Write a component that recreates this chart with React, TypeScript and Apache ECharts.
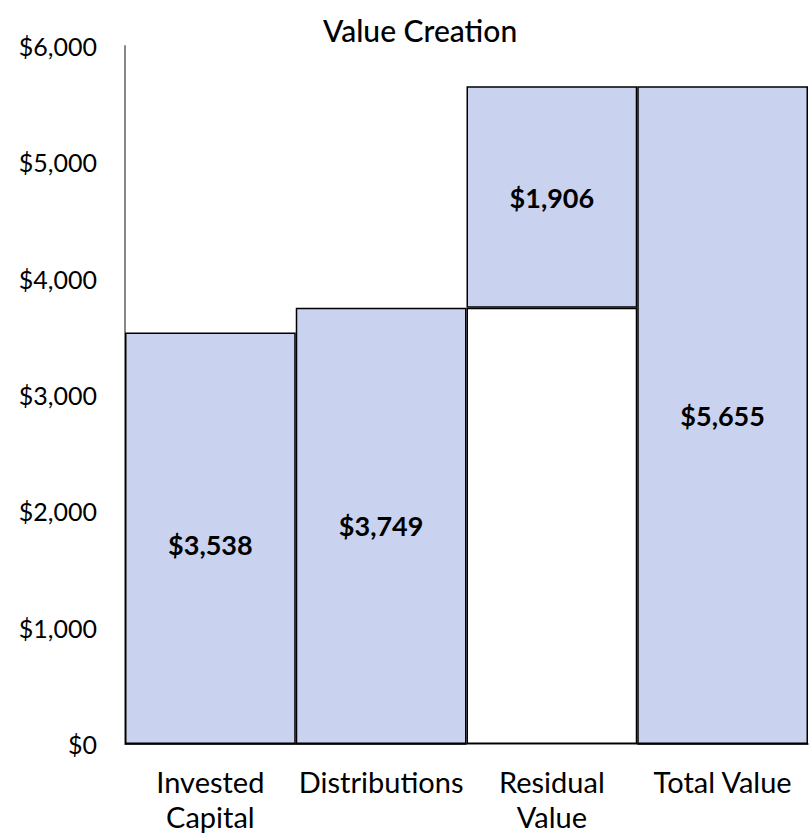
import React, { useEffect, useRef } from "react";
import * as echarts from "echarts";

const categories = ["Invested\nCapital", "Distributions", "Residual\nValue", "Total Value"];
const baseValues = [0, 0, 3749, 0];
const barValues = [3538, 3749, 1906, 5655];
const yTicks = { min: 0, max: 6000, interval: 1000 };

const FONT = "Lato, 'Noto Sans', sans-serif";

export default function App() {
  const ref = useRef<HTMLDivElement>(null);
  useEffect(() => {
    if (!ref.current) return;
    const chart = echarts.init(ref.current, null, { renderer: "svg" });
    chart.setOption({
      animation: false,
      backgroundColor: "#ffffff",
      textStyle: { fontFamily: FONT },
      title: {
        text: "Value Creation",
        left: 318,
        top: 10,
        textStyle: { fontFamily: FONT, fontSize: 30, fontWeight: 500, color: "#000" },
      },
      grid: { left: 125, right: 4, top: 46, bottom: 96, containLabel: false },
      xAxis: {
        type: "category",
        data: categories,
        axisLine: { lineStyle: { color: "#888888", width: 2 } },
        axisTick: { show: false },
        axisLabel: {
          color: "#000",
          fontSize: 29,
          fontFamily: FONT,
          lineHeight: 35,
          margin: 20,
          interval: 0,
        },
      },
      yAxis: {
        type: "value",
        min: yTicks.min,
        max: yTicks.max,
        interval: yTicks.interval,
        axisLine: { show: true, lineStyle: { color: "#888888", width: 2 } },
        axisTick: { show: false },
        splitLine: { show: false },
        axisLabel: {
          color: "#000",
          fontSize: 25,
          fontFamily: FONT,
          margin: 28,
          formatter: (v: number) => "$" + v.toLocaleString("en-US"),
        },
      },
      series: [
        {
          type: "bar",
          stack: "w",
          data: baseValues,
          barCategoryGap: "0%",
          itemStyle: { color: "#ffffff", borderColor: "#000000", borderWidth: 1.5 },
          silent: true,
        },
        {
          type: "bar",
          stack: "w",
          data: barValues.map((v, i) =>
            i === 0 ? { value: v, label: { offset: [0, 6] } } : v
          ),
          barCategoryGap: "0%",
          itemStyle: { color: "#C9D2EE", borderColor: "#000000", borderWidth: 1.5 },
          label: {
            show: true,
            position: "inside",
            color: "#000",
            fontSize: 27,
            fontWeight: "bold",
            fontFamily: FONT,
            formatter: (p: any) => "$" + Number(p.value).toLocaleString("en-US"),
          },
        },
      ],
    });
    return () => chart.dispose();
  }, []);
  return (
    <div
      ref={ref}
      style={{ position: "fixed", left: 0, top: 0, width: 812, height: 840 }}
    />
  );
}
